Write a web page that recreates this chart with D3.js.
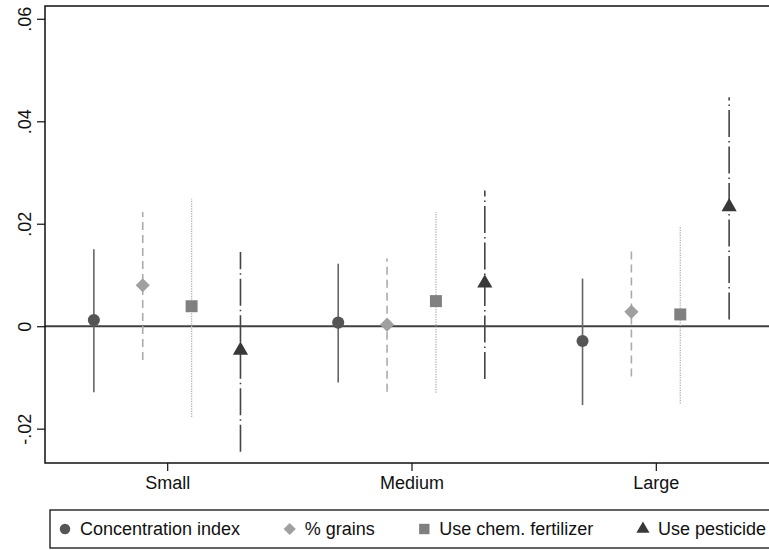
<!DOCTYPE html>
<meta charset="utf-8">
<script src="https://d3js.org/d3.v7.min.js"></script>
<style>
  html, body { margin: 0; background: #fff; overflow: hidden; }
  svg { display: block; overflow: hidden; font-family: "Liberation Sans", Arial, sans-serif; }
</style>
<body>
<script type="text/javascript">

// groups on the x axis
var groups = ["Small", "Medium", "Large"];

// series (outcomes)
var series = ["Concentration index", "% grains", "Use chem. fertilizer", "Use pesticide"];

// point estimates per series, one value per group
var estConc   = [0.0012, 0.0007, -0.0029];
var estGrains = [0.0080, 0.0003, 0.0028];
var estFert   = [0.0039, 0.0049, 0.0023];
var estPest   = [-0.0047, 0.0084, 0.0233];

// confidence intervals (low, high) per group
var ciConc   = [[-0.0129, 0.0150], [-0.0110, 0.0122], [-0.0154, 0.0093]];
var ciGrains = [[-0.0066, 0.0223], [-0.0128, 0.0132], [-0.0098, 0.0152]];
var ciFert   = [[-0.0177, 0.0249], [-0.0130, 0.0223], [-0.0151, 0.0196]];
var ciPest   = [[-0.0245, 0.0145], [-0.0103, 0.0265], [0.0013, 0.0447]];

var yTicks = [-0.02, 0, 0.02, 0.04, 0.06];
var yTickLabels = ["-.02", "0", ".02", ".04", ".06"];

var width = 769, height = 550;
var plotLeft = 45, plotRight = 778, plotTop = 6, plotBottom = 463;

var svg = d3.select("body").append("svg")
    .attr("width", width)
    .attr("height", height);

var x = d3.scaleLinear().domain([0.5, 3.5]).range([plotLeft, plotRight]);
var y = d3.scaleLinear().domain([-0.0267, 0.0625]).range([plotBottom, plotTop]);

// offsets of each series within a group (in group units)
var offset = d3.scaleBand().domain(series).range([-0.4, 0.4]).paddingInner(0);

// styles per series
var markColor = ["#555555", "#a0a0a0", "#808080", "#383838"];
var lineColor = ["#666666", "#ababab", "#b0b0b0", "#444444"];
var lineDash  = [null, "8,5", "1.2,1.3", "27,4,1.5,4"];
var symbols   = [d3.symbolCircle, d3.symbolSquare, d3.symbolSquare, d3.symbolTriangle];
var symSize   = [115, 100, 144, 100];
var symRotate = [0, 45, 0, 0];

var estimates = [estConc, estGrains, estFert, estPest];
var cis = [ciConc, ciGrains, ciFert, ciPest];

// rows for drawing
var rows = [];
series.forEach(function(s, si) {
  groups.forEach(function(g, gi) {
    rows.push({s: s, si: si, gi: gi, est: estimates[si][gi], lo: cis[si][gi][0], hi: cis[si][gi][1]});
  });
});

function xpos(d) { return x(d.gi + 1 + offset(d.s) + offset.bandwidth() / 2); }

// zero line
svg.append("line")
    .attr("x1", plotLeft).attr("x2", plotRight)
    .attr("y1", y(0)).attr("y2", y(0))
    .attr("stroke", "#404040")
    .attr("stroke-width", 2);

// y axis
var yAxis = svg.append("g")
    .attr("transform", "translate(" + plotLeft + ",0)")
    .call(d3.axisLeft(y).tickValues(yTicks).tickSize(8)
      .tickFormat(function(d, i) { return yTickLabels[i]; }));
yAxis.select(".domain").remove();
yAxis.selectAll(".tick line").attr("stroke", "#222").attr("stroke-width", 1.3);
yAxis.selectAll(".tick text")
    .attr("x", 0).attr("dy", 0)
    .attr("transform", "translate(-20,0) rotate(-90)")
    .attr("text-anchor", "middle")
    .attr("dominant-baseline", "central")
    .style("font-size", "18px")
    .attr("fill", "#111");

// x axis
var xAxis = svg.append("g")
    .attr("transform", "translate(0," + plotBottom + ")")
    .call(d3.axisBottom(x).tickValues([1, 2, 3]).tickSize(8)
      .tickFormat(function(d) { return groups[d - 1]; }));
xAxis.select(".domain").remove();
xAxis.selectAll(".tick line").attr("stroke", "#222").attr("stroke-width", 1.3);
xAxis.selectAll(".tick text")
    .attr("y", 13)
    .style("font-size", "18px")
    .attr("fill", "#111");

// confidence interval lines
svg.append("g").selectAll("line")
  .data(rows)
  .enter().append("line")
    .attr("x1", xpos).attr("x2", xpos)
    .attr("y1", function(d) { return y(d.lo); })
    .attr("y2", function(d) { return y(d.hi); })
    .attr("stroke", function(d) { return lineColor[d.si]; })
    .attr("stroke-width", function(d) { return d.si === 2 ? 1.3 : 1.6; })
    .attr("stroke-dasharray", function(d) { return lineDash[d.si]; });

// point markers
svg.append("g").selectAll("path")
  .data(rows)
  .enter().append("path")
    .attr("transform", function(d) {
      return "translate(" + xpos(d) + "," + y(d.est) + ") rotate(" + symRotate[d.si] + ")";
    })
    .attr("d", function(d) { return d3.symbol().type(symbols[d.si]).size(symSize[d.si])(); })
    .attr("fill", function(d) { return markColor[d.si]; });

// plot frame
svg.append("rect")
    .attr("x", plotLeft).attr("y", plotTop)
    .attr("width", plotRight - plotLeft).attr("height", plotBottom - plotTop)
    .attr("fill", "none")
    .attr("stroke", "#111")
    .attr("stroke-width", 1.5);

// legend: one row, equal gaps, last text ends near the right edge
var legend = svg.append("g");
legend.append("rect")
    .attr("x", 50).attr("y", 510)
    .attr("width", 740).attr("height", 38)
    .attr("fill", "none")
    .attr("stroke", "#111")
    .attr("stroke-width", 1.3);

var item = legend.selectAll(".item")
  .data(series)
  .enter().append("g")
    .attr("class", "item");

item.append("path")
    .attr("transform", function(d, i) { return "rotate(" + symRotate[i] + ")"; })
    .attr("d", function(d, i) { return d3.symbol().type(symbols[i]).size(symSize[i] * 0.75)(); })
    .attr("fill", function(d, i) { return markColor[i]; });

item.append("text")
    .attr("x", 15)
    .attr("dy", "0.35em")
    .style("font-size", "18px")
    .attr("fill", "#111")
    .text(function(d) { return d; });

var widths = [];
item.selectAll("text").each(function() { widths.push(this.getComputedTextLength()); });
var startX = 65, endX = 766;
var gap = (endX - startX - 15 * series.length - d3.sum(widths)) / (series.length - 1);
var cx = startX;
item.attr("transform", function(d, i) {
  var t = "translate(" + cx + ",529)";
  cx += 15 + widths[i] + gap;
  return t;
});

</script>
</body>
</html>
